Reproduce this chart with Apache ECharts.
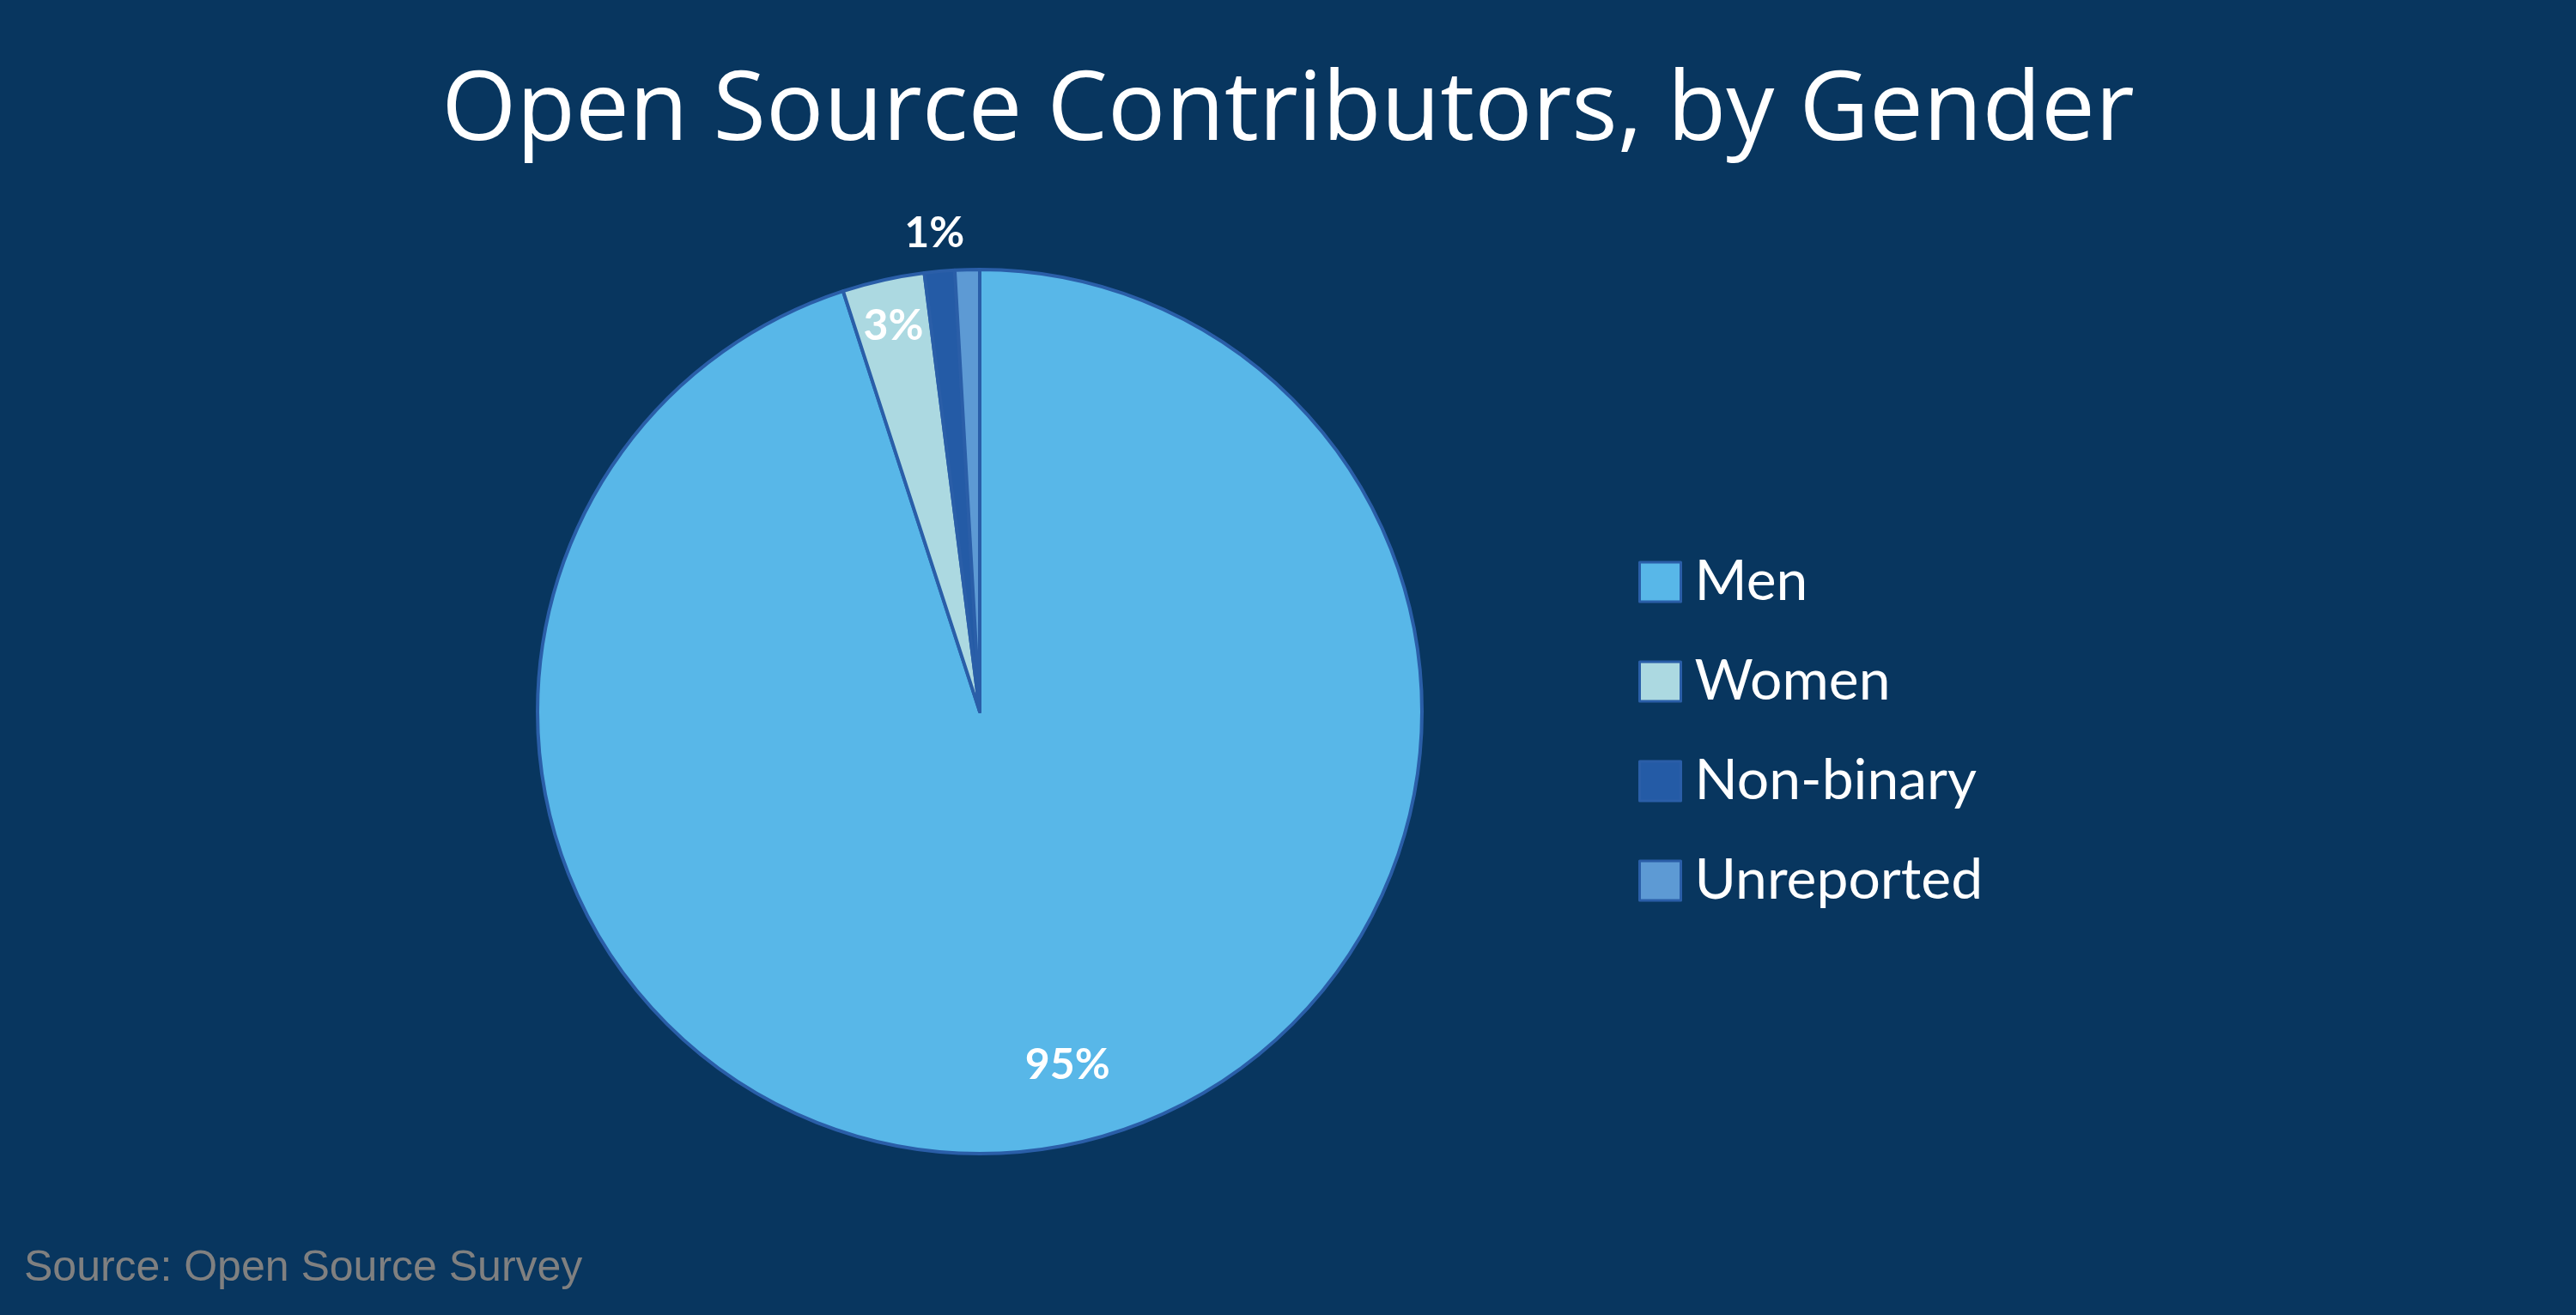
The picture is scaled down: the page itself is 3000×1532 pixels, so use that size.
<!DOCTYPE html>
<html>
<head>
<meta charset="utf-8" />
<script src="https://cdn.jsdelivr.net/npm/echarts@6/dist/echarts.min.js"></script>
<title>Open Source Contributors, by Gender</title>
<style>
  html, body { margin: 0; padding: 0; background: #08365f; }
  #chart { width: 3000px; height: 1532px; }
</style>
</head>
<body>
<div id="chart"></div>
<script>
// data (percent of contributors)
var genders = ['Men', 'Women', 'Non-binary', 'Unreported'];
var shares = [95, 3, 1.1, 0.9];
var sliceColors = ['#58b7e8', '#acd9e1', '#245ba6', '#5d9ad4'];
// which slice shows its label and where
var labelSpots = ['inside', 'inside', 'outside', 'none'];

var edge = '#2a5ea8';
var cx = 1141, cy = 829, R = 515;

function pct(p) { return Math.round(p.value) + '%'; }

var labelFont = {
  color: '#ffffff',
  fontFamily: 'Lato',
  fontWeight: 'bold',
  fontSize: 50
};

// main pie: the slices plus the small outside label
var mainData = genders.map(function (g, i) {
  var item = { name: g, value: shares[i], itemStyle: { color: sliceColors[i] } };
  item.label = { show: labelSpots[i] === 'outside' };
  return item;
});

// transparent rings only used to place the inside labels near the rim
function ringData(showIdx) {
  return genders.map(function (g, i) {
    return {
      name: g,
      value: shares[i],
      label: { show: i === showIdx && labelSpots[i] === 'inside' }
    };
  });
}

function ring(inner, showIdx, nudge) {
  return {
    type: 'pie',
    center: [cx, cy],
    radius: [inner, R],
    silent: true,
    startAngle: 90,
    clockwise: true,
    avoidLabelOverlap: false,
    tooltip: { show: false },
    itemStyle: { color: 'rgba(0,0,0,0)', borderWidth: 0 },
    emphasis: { disabled: true },
    label: Object.assign({ position: 'inside', formatter: pct, offset: nudge }, labelFont),
    labelLine: { show: false },
    data: ringData(showIdx)
  };
}

var chart = echarts.init(document.getElementById('chart'));
chart.setOption({
  backgroundColor: '#08365f',
  animation: false,
  title: [{
    text: 'Open Source Contributors, by Gender',
    left: 'center',
    top: 70,
    textStyle: { color: '#ffffff', fontFamily: 'Open Sans', fontWeight: 'normal', fontSize: 112 }
  }, {
    text: 'Source: Open Source Survey',
    left: 23,
    top: 1448,
    textStyle: { color: '#808080', fontFamily: 'Liberation Sans', fontWeight: 'normal', fontSize: 50 }
  }],
  legend: {
    orient: 'vertical',
    left: 1903,
    top: 640,
    icon: 'rect',
    itemWidth: 48,
    itemHeight: 46,
    itemGap: 50,
    itemStyle: { borderColor: edge, borderWidth: 3 },
    textStyle: { color: '#ffffff', fontFamily: 'Lato', fontSize: 66, padding: [0, 0, 0, 11] },
    data: genders
  },
  series: [{
    type: 'pie',
    center: [cx, cy],
    radius: R,
    startAngle: 90,
    clockwise: true,
    avoidLabelOverlap: false,
    itemStyle: { borderColor: edge, borderWidth: 4 },
    label: Object.assign({ position: 'outside', formatter: pct, distanceToLabelLine: -33 }, labelFont),
    labelLine: { show: false, length: 44, length2: 0 },
    data: mainData
  },
  ring(325, 0, [36, -6]),
  ring(400, 1, [0, 0])]
});
</script>
</body>
</html>
